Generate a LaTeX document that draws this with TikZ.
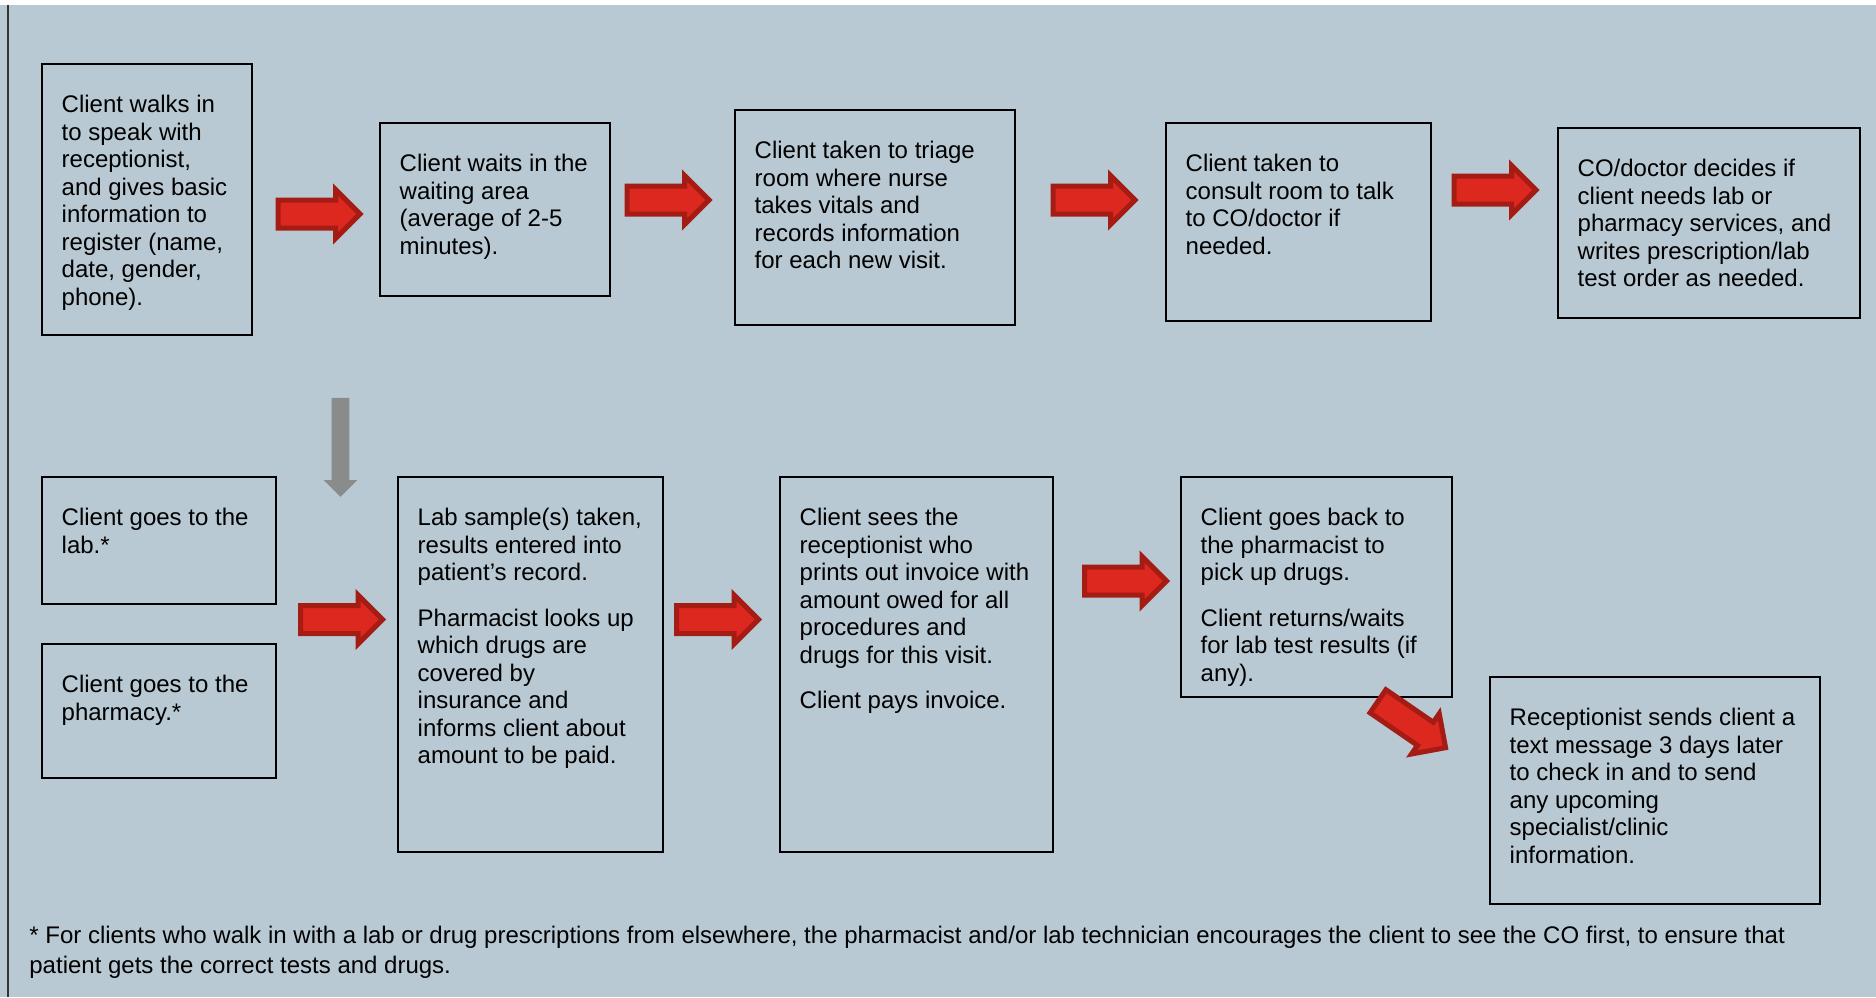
\documentclass[tikz,border=0pt]{standalone}
\usepackage{fontspec}
\setmainfont{Liberation Sans}
\usetikzlibrary{fit,shapes.arrows}

\definecolor{panel}{RGB}{184,201,211}
\definecolor{arrowred}{RGB}{220,40,30}
\definecolor{arrowdark}{RGB}{165,28,21}
\definecolor{downgray}{RGB}{138,140,140}

\begin{document}
\begin{tikzpicture}[
  x=0.5pt, y=-0.5pt,
  stepbox/.style={draw=black, line width=0.7pt, inner sep=0pt},
  steptext/.style={anchor=north west, inner sep=0pt, align=left,
    font=\fontsize{12}{13.75}\selectfont},
  rarrow/.style={single arrow, draw=arrowdark, fill=arrowred, line width=2.5pt,
    inner xsep=0pt, inner ysep=5.75pt, minimum height=41pt,
    single arrow head extend=5.25pt},
  downarrow/.style={single arrow, fill=downgray, rotate=-90,
    inner xsep=0pt, inner ysep=4.25pt, minimum height=49.5pt,
    single arrow head extend=4pt},
  note/.style={anchor=north west, inner sep=0pt, align=left,
    font=\fontsize{12}{15}\selectfont},
]
\useasboundingbox (0,0) rectangle (1876,997);
\fill[panel] (0,5) rectangle (1876,997);
\draw[line width=0.8pt, black!80] (8,5) -- (8,997);

% first row
\node[stepbox, fit={(42,64) (252,335)}] (reg) {};
\node[stepbox, fit={(380,123) (610,296)}] (wait) {};
\node[stepbox, fit={(735,110) (1015,325)}] (triage) {};
\node[stepbox, fit={(1166,123) (1431,321)}] (consult) {};
\node[stepbox, fit={(1558,128) (1860,318)}] (decide) {};

\node[steptext] (reg-t) at ([xshift=10pt, yshift=-15.75pt]reg.north west)
  {Client walks in\\to speak with\\receptionist,\\and gives basic\\information to\\register (name,\\date, gender,\\phone).};
\node[steptext] (wait-t) at ([xshift=10pt, yshift=-15.75pt]wait.north west)
  {Client waits in the\\waiting area\\(average of 2-5\\minutes).};
\node[steptext] (triage-t) at ([xshift=10pt, yshift=-15.75pt]triage.north west)
  {Client taken to triage\\room where nurse\\takes vitals and\\records information\\for each new visit.};
\node[steptext] (consult-t) at ([xshift=10pt, yshift=-15.75pt]consult.north west)
  {Client taken to\\consult room to talk\\to CO/doctor if\\needed.};
\node[steptext] (decide-t) at ([xshift=10pt, yshift=-15.75pt]decide.north west)
  {CO/doctor decides if\\client needs lab or\\pharmacy services, and\\writes prescription/lab\\test order as needed.};

% second row
\node[stepbox, fit={(42,477) (276,604)}] (lab) {};
\node[stepbox, fit={(42,644) (276,778)}] (pharm) {};
\node[stepbox, fit={(398,477) (663,852)}] (labres) {};
\node[stepbox, fit={(780,477) (1053,852)}] (invoice) {};
\node[stepbox, fit={(1181,477) (1452,697)}] (pickup) {};
\node[stepbox, fit={(1490,677) (1820,904)}] (sms) {};

\node[steptext] (lab-t) at ([xshift=10pt, yshift=-15.75pt]lab.north west)
  {Client goes to the\\lab.*};
\node[steptext] (pharm-t) at ([xshift=10pt, yshift=-15.75pt]pharm.north west)
  {Client goes to the\\pharmacy.*};
\node[steptext] (labres-t) at ([xshift=10pt, yshift=-15.75pt]labres.north west)
  {Lab sample(s) taken,\\results entered into\\patient’s record.\\[9pt]
   Pharmacist looks up\\which drugs are\\covered by\\insurance and\\informs client about\\amount to be paid.};
\node[steptext] (invoice-t) at ([xshift=10pt, yshift=-15.75pt]invoice.north west)
  {Client sees the\\receptionist who\\prints out invoice with\\amount owed for all\\procedures and\\drugs for this visit.\\[9pt]
   Client pays invoice.};
\node[steptext] (pickup-t) at ([xshift=10pt, yshift=-15.75pt]pickup.north west)
  {Client goes back to\\the pharmacist to\\pick up drugs.\\[9pt]
   Client returns/waits\\for lab test results (if\\any).};
\node[steptext] (sms-t) at ([xshift=10pt, yshift=-15.75pt]sms.north west)
  {Receptionist sends client a\\text message 3 days later\\to check in and to send\\any upcoming\\specialist/clinic\\information.};

% arrows between the steps
\node[rarrow] (a1) at (312,214) {};
\node[rarrow] (a2) at (661,200) {};
\node[rarrow] (a3) at (1087,200) {};
\node[rarrow] (a4) at (1488,190) {};
\node[downarrow] (a0) at (340.5,443) {};
\node[rarrow] (a5) at (334.5,619.5) {};
\node[rarrow] (a6) at (710.5,619.5) {};
\node[rarrow] (a7) at (1118.5,581) {};
\node[rarrow, rotate=-34.5] (a8) at (1406,720.5) {};

% footnote
\node[note] (fn) at (29,925.5)
  {* For clients who walk in with a lab or drug prescriptions from elsewhere, the pharmacist and/or lab technician encourages the client to see the CO first, to ensure that\\
   patient gets the correct tests and drugs.};
\end{tikzpicture}
\end{document}
